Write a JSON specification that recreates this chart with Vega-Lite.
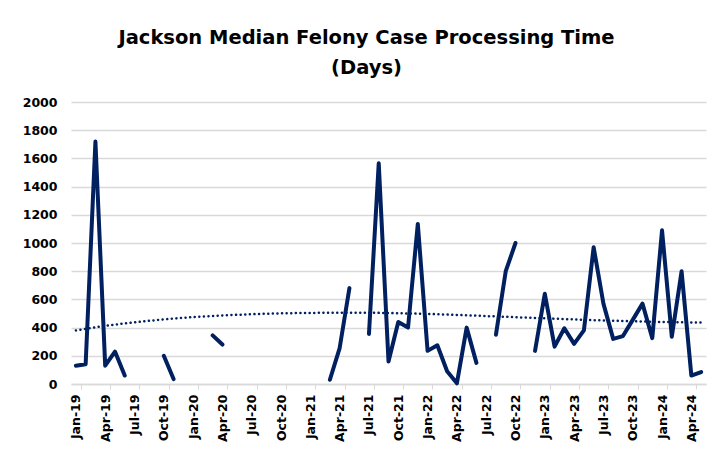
{
  "$schema": "https://vega.github.io/schema/vega-lite/v6.json",
  "autosize": "none",
  "width": 635,
  "height": 282,
  "padding": {"left": 71, "top": 102, "right": 8, "bottom": 67},
  "background": "white",
  "title": {
    "text": ["Jackson Median Felony Case Processing Time", "(Days)"],
    "font": "DejaVu Sans",
    "fontSize": 19.5,
    "fontWeight": "bold",
    "color": "#000000",
    "anchor": "middle",
    "dx": -22,
    "offset": 18,
    "lineHeight": 30
  },
  "config": {
    "view": {"stroke": null},
    "axis": {"labelFont": "DejaVu Sans", "labelFontWeight": "bold", "labelFontSize": 12.5, "labelColor": "#000000"},
    "axisY": {
      "title": null,
      "values": [0, 200, 400, 600, 800, 1000, 1200, 1400, 1600, 1800, 2000],
      "format": "d",
      "domain": false,
      "ticks": false,
      "labelOverlap": false,
      "labelPadding": 14,
      "gridColor": "#d9d9d9",
      "gridWidth": 1.5
    }
  },
  "data": {
    "values": [
      {"date": "2019/01/15", "days": 130, "trend": 380},
      {"date": "2019/02/15", "days": 140, "trend": null},
      {"date": "2019/03/15", "days": 1720, "trend": null},
      {"date": "2019/04/15", "days": 130, "trend": 412},
      {"date": "2019/05/15", "days": 230, "trend": null},
      {"date": "2019/06/15", "days": 60, "trend": null},
      {"date": "2019/07/15", "days": null, "trend": 437},
      {"date": "2019/08/15", "days": null, "trend": null},
      {"date": "2019/09/15", "days": null, "trend": null},
      {"date": "2019/10/15", "days": 200, "trend": 458},
      {"date": "2019/11/15", "days": 35, "trend": null},
      {"date": "2019/12/15", "days": null, "trend": null},
      {"date": "2020/01/15", "days": null, "trend": 474},
      {"date": "2020/02/15", "days": null, "trend": null},
      {"date": "2020/03/15", "days": 345, "trend": null},
      {"date": "2020/04/15", "days": 280, "trend": 486},
      {"date": "2020/05/15", "days": null, "trend": null},
      {"date": "2020/06/15", "days": null, "trend": null},
      {"date": "2020/07/15", "days": null, "trend": 495},
      {"date": "2020/08/15", "days": null, "trend": null},
      {"date": "2020/09/15", "days": null, "trend": null},
      {"date": "2020/10/15", "days": null, "trend": 501},
      {"date": "2020/11/15", "days": null, "trend": null},
      {"date": "2020/12/15", "days": null, "trend": null},
      {"date": "2021/01/15", "days": null, "trend": 504},
      {"date": "2021/02/15", "days": null, "trend": null},
      {"date": "2021/03/15", "days": 30, "trend": null},
      {"date": "2021/04/15", "days": 255, "trend": 505},
      {"date": "2021/05/15", "days": 680, "trend": null},
      {"date": "2021/06/15", "days": null, "trend": null},
      {"date": "2021/07/15", "days": 355, "trend": 505},
      {"date": "2021/08/15", "days": 1565, "trend": null},
      {"date": "2021/09/15", "days": 160, "trend": null},
      {"date": "2021/10/15", "days": 440, "trend": 502},
      {"date": "2021/11/15", "days": 400, "trend": null},
      {"date": "2021/12/15", "days": 1135, "trend": null},
      {"date": "2022/01/15", "days": 235, "trend": 497},
      {"date": "2022/02/15", "days": 275, "trend": null},
      {"date": "2022/03/15", "days": 90, "trend": null},
      {"date": "2022/04/15", "days": 5, "trend": 490},
      {"date": "2022/05/15", "days": 400, "trend": null},
      {"date": "2022/06/15", "days": 150, "trend": null},
      {"date": "2022/07/15", "days": null, "trend": 482},
      {"date": "2022/08/15", "days": 350, "trend": null},
      {"date": "2022/09/15", "days": 800, "trend": null},
      {"date": "2022/10/15", "days": 1000, "trend": 474},
      {"date": "2022/11/15", "days": null, "trend": null},
      {"date": "2022/12/15", "days": 235, "trend": null},
      {"date": "2023/01/15", "days": 640, "trend": 466},
      {"date": "2023/02/15", "days": 265, "trend": null},
      {"date": "2023/03/15", "days": 395, "trend": null},
      {"date": "2023/04/15", "days": 285, "trend": 458},
      {"date": "2023/05/15", "days": 380, "trend": null},
      {"date": "2023/06/15", "days": 970, "trend": null},
      {"date": "2023/07/15", "days": 570, "trend": 451},
      {"date": "2023/08/15", "days": 320, "trend": null},
      {"date": "2023/09/15", "days": 340, "trend": null},
      {"date": "2023/10/15", "days": 455, "trend": 445},
      {"date": "2023/11/15", "days": 570, "trend": null},
      {"date": "2023/12/15", "days": 325, "trend": null},
      {"date": "2024/01/15", "days": 1090, "trend": 440},
      {"date": "2024/02/15", "days": 335, "trend": null},
      {"date": "2024/03/15", "days": 800, "trend": null},
      {"date": "2024/04/15", "days": 60, "trend": null},
      {"date": "2024/05/15", "days": 85, "trend": 436}
    ]
  },
  "encoding": {
    "x": {
      "field": "date",
      "timeUnit": "yearmonth",
      "type": "ordinal",
      "scale": {"type": "band", "paddingInner": 0, "paddingOuter": 0},
      "axis": {
        "title": null,
        "labelAngle": -90,
        "labelAlign": "right",
        "labelBaseline": "middle",
        "labelPadding": 5,
        "labelExpr": "month(datum.value) % 3 == 0 ? timeFormat(datum.value, '%b-%y') : ''",
        "labelOverlap": false,
        "tickBand": "extent",
        "tickSize": 5,
        "tickColor": "#d9d9d9",
        "tickOpacity": {"expr": "month(datum.value) % 3 == 0 ? 1 : 0"},
        "domainColor": "#d9d9d9",
        "domainWidth": 1.5,
        "grid": false
      }
    }
  },
  "layer": [
    {
      "mark": {"type": "line", "color": "#002060", "strokeWidth": 4, "strokeCap": "round", "strokeJoin": "round", "invalid": "break-paths-show-domains"},
      "encoding": {
        "y": {
          "field": "days",
          "type": "quantitative",
          "scale": {"domain": [0, 2000]}
        }
      }
    },
    {
      "mark": {"type": "line", "color": "#002060", "strokeWidth": 2.5, "strokeDash": [0.1, 4.5], "strokeCap": "round", "interpolate": "monotone", "invalid": "filter"},
      "encoding": {
        "y": {"field": "trend", "type": "quantitative", "scale": {"domain": [0, 2000]}}
      }
    }
  ]
}
